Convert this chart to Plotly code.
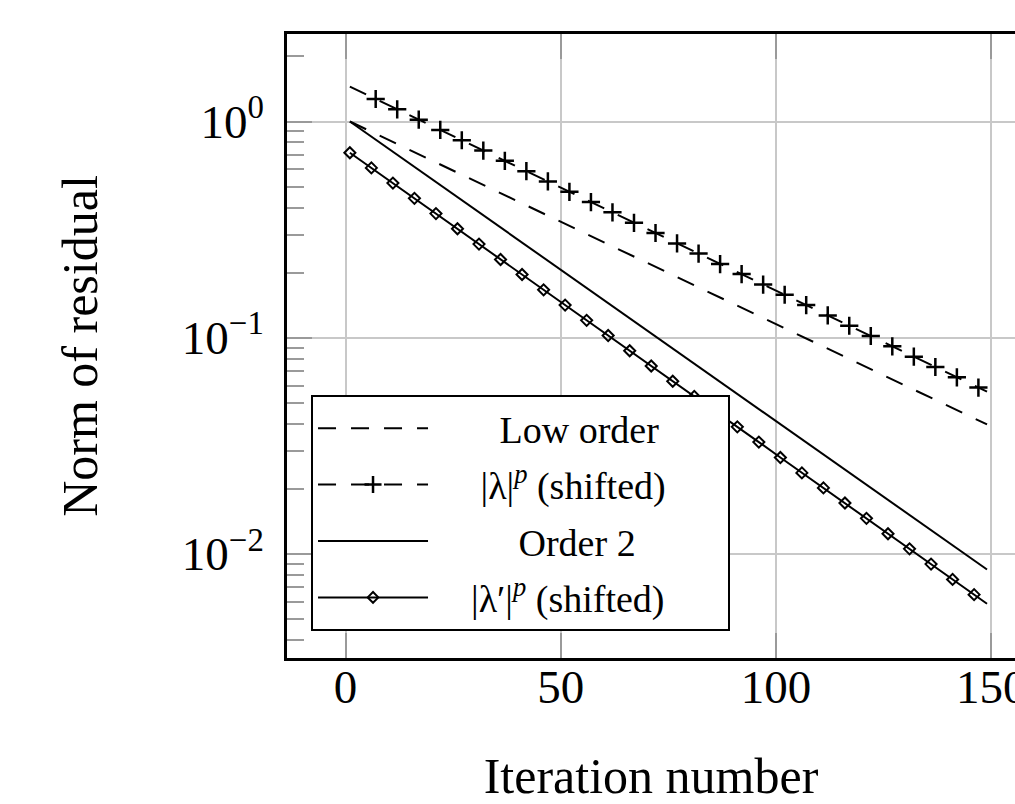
import plotly.graph_objects as go

# ---- data ----
low_x = [1, 149]
low_y = [1.0, 0.0397]

lam_x = [1, 7, 12, 17, 22, 27, 32, 37, 42, 47, 52, 57, 62, 67, 72, 77, 82, 87, 92, 97,
         102, 107, 112, 117, 122, 127, 132, 137, 142, 147, 149]
lam_y = [1.45, 1.271, 1.139, 1.020, 0.914, 0.819, 0.734, 0.658, 0.589, 0.528, 0.473,
         0.424, 0.380, 0.340, 0.305, 0.273, 0.245, 0.219, 0.197, 0.176, 0.158, 0.1415,
         0.1268, 0.1136, 0.1018, 0.0912, 0.0817, 0.0732, 0.0656, 0.0588, 0.0563]

ord2_x = [1, 149]
ord2_y = [1.0, 0.00847]

lamp_x = [1, 6, 11, 16, 21, 26, 31, 36, 41, 46, 51, 56, 61, 66, 71, 76, 81, 86, 91, 96,
          101, 106, 111, 116, 121, 126, 131, 136, 141, 146, 149]
lamp_y = [0.717, 0.610, 0.519, 0.441, 0.375, 0.319, 0.271, 0.230, 0.196, 0.1665, 0.1415,
          0.1203, 0.1023, 0.0870, 0.0740, 0.0629, 0.0535, 0.0455, 0.0387, 0.0329, 0.0279,
          0.0237, 0.0202, 0.0172, 0.0146, 0.0124, 0.01055, 0.00897, 0.00762, 0.00648, 0.00588]

x_ticks = [0, 50, 100, 150]
y_ticks = [1, 0.1, 0.01]
y_ticktext = ["10<sup>0</sup>", "10<sup>\u22121</sup>", "10<sup>\u22122</sup>"]
y_minor = [0.004, 0.005, 0.006, 0.007, 0.008, 0.009,
           0.02, 0.03, 0.04, 0.05, 0.06, 0.07, 0.08, 0.09,
           0.2, 0.3, 0.4, 0.5, 0.6, 0.7, 0.8, 0.9, 2]

NB = "\u00a0"
names = [
    NB * 7 + "Low order" + NB * 6,
    NB * 5 + "|\u03bb|<sup><i>p</i></sup> (shifted)" + NB * 6,
    NB * 9 + "Order 2" + NB * 6,
    NB * 4 + "|\u03bb\u2032|<sup><i>p</i></sup> (shifted)" + NB * 6,
]

DASH = "18px,15px"
LW = 2

fig = go.Figure()
fig.add_trace(go.Scatter(x=low_x, y=low_y, mode="lines", name=names[0], legendgroup="a",
                         line=dict(color="black", width=LW, dash=DASH)))
lam_sizes = [0] + [13] * (len(lam_x) - 2) + [0]
fig.add_trace(go.Scatter(x=lam_x, y=lam_y, mode="lines+markers", name=names[1], legendgroup="b",
                         line=dict(color="black", width=LW, dash=DASH),
                         marker=dict(symbol="cross-thin", size=lam_sizes, color="black",
                                     opacity=1, line=dict(color="black", width=2.5))))
fig.add_trace(go.Scatter(x=ord2_x, y=ord2_y, mode="lines", name=names[2], legendgroup="c",
                         line=dict(color="black", width=LW)))
lamp_sizes = [8.5] * (len(lamp_x) - 1) + [0]
fig.add_trace(go.Scatter(x=lamp_x, y=lamp_y, mode="lines+markers", name=names[3], legendgroup="d",
                         line=dict(color="black", width=LW),
                         marker=dict(symbol="diamond-open", size=lamp_sizes, color="black",
                                     opacity=1, line=dict(color="black", width=2))))

FONT = "Liberation Serif"
fig.update_layout(
    width=1015, height=804,
    margin=dict(l=287, r=0, t=34, b=146, autoexpand=False),
    paper_bgcolor="white", plot_bgcolor="white",
    font=dict(family=FONT, color="black"),
    showlegend=True,
    legend=dict(x=0.033, y=0.4215, xanchor="left", yanchor="top",
                bgcolor="white", bordercolor="black", borderwidth=2,
                font=dict(family=FONT, size=38, color="black"),
                itemwidth=110, tracegroupgap=4,
                traceorder="grouped"),
    xaxis=dict(range=[-13.6, 155.5], tickvals=x_ticks, ticks="inside", ticklen=25,
               tickwidth=1.5, tickcolor="#9a9a9a", showgrid=True, gridcolor="#c8c8c8",
               gridwidth=2, zeroline=False, showline=True, linecolor="black", linewidth=2.5,
               mirror="ticks", tickfont=dict(size=47), ticklabelstandoff=-14,
               ticklabeloverflow="allow", automargin=False,
               title=dict(text="Iteration number", font=dict(size=50), standoff=52)),
    yaxis=dict(type="log", range=[-2.4815, 0.4047], tickvals=y_ticks, ticktext=y_ticktext,
               ticks="inside", ticklen=25, tickwidth=1.5, tickcolor="#9a9a9a",
               showgrid=True, gridcolor="#c8c8c8", gridwidth=2, zeroline=False,
               showline=True, linecolor="black", linewidth=2.5, mirror=False,
               tickfont=dict(size=47), ticklabelstandoff=11, automargin=False,
               minor=dict(tickvals=y_minor, ticks="inside", ticklen=17, tickwidth=1.5,
                          tickcolor="#9a9a9a", showgrid=False),
               title=dict(text="Norm of residual", font=dict(size=50), standoff=69)),
)

fig.write_html("out.html")
